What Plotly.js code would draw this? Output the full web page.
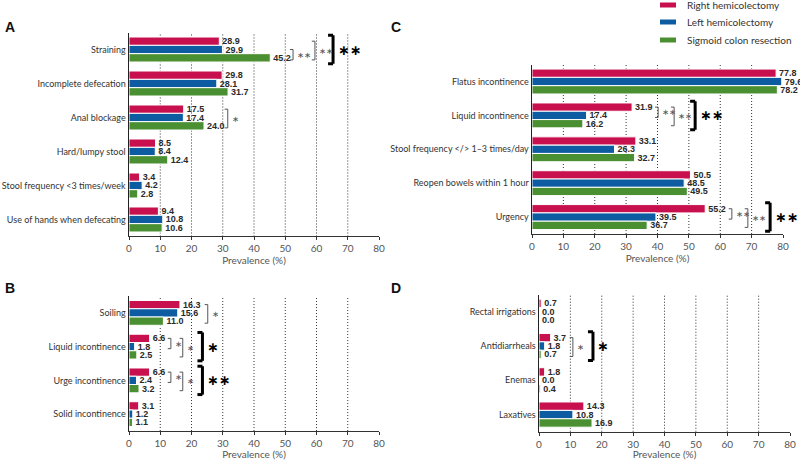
<!DOCTYPE html>
<html>
<head>
<meta charset="utf-8">
<script src="https://cdn.plot.ly/plotly-3.0.1.min.js"></script>
<style>
  html, body { margin: 0; padding: 0; background: #fff; }
  #plot { width: 800px; height: 460px; }
</style>
</head>
<body>
<div id="plot"></div>
<script>
// series names and colours
const seriesNames = ['Right hemicolectomy', 'Left hemicolectomy', 'Sigmoid colon resection'];
const seriesColors = ['#c8104e', '#0d5ca2', '#4a8f32'];

// panel A - constipation symptoms
const catsA = ['Straining', 'Incomplete defecation', 'Anal blockage', 'Hard/lumpy stool',
  'Stool frequency &lt;3 times/week', 'Use of hands when defecating'];
const rightA = [28.9, 29.8, 17.5, 8.5, 3.4, 9.4];
const leftA = [29.9, 28.1, 17.4, 8.4, 4.2, 10.8];
const sigmoidA = [45.2, 31.7, 24.0, 12.4, 2.8, 10.6];

// panel B - incontinence
const catsB = ['Soiling', 'Liquid incontinence', 'Urge incontinence', 'Solid incontinence'];
const rightB = [16.3, 6.6, 6.6, 3.1];
const leftB = [15.6, 1.8, 2.4, 1.2];
const sigmoidB = [11.0, 2.5, 3.2, 1.1];

// panel C - LARS items
const catsC = ['Flatus incontinence', 'Liquid incontinence', 'Stool frequency &lt;/&gt; 1–3 times/day',
  'Reopen bowels within 1 hour', 'Urgency'];
const rightC = [77.8, 31.9, 33.1, 50.5, 55.2];
const leftC = [79.6, 17.4, 26.3, 48.5, 39.5];
const sigmoidC = [78.2, 16.2, 32.7, 49.5, 36.7];

// panel D - medication use
const catsD = ['Rectal irrigations', 'Antidiarrheals', 'Enemas', 'Laxatives'];
const rightD = [0.7, 3.7, 1.8, 14.3];
const leftD = [0.0, 1.8, 0.0, 10.8];
const sigmoidD = [0.0, 0.7, 0.4, 16.9];

const xTicks = [0, 10, 20, 30, 40, 50, 60, 70, 80];
const gridVals = [10, 20, 30, 40, 50, 60, 70];

// significance brackets: panel, category index, series from/to, x position, label, big
const brackets = [
  { p: 'A', c: 0, a: 1, b: 2, x: 52.5, t: '∗∗' },
  { p: 'A', c: 0, a: 0, b: 2, x: 59.5, t: '∗∗' },
  { p: 'A', c: 0, x: 65.3, t: '∗∗', big: true },
  { p: 'A', c: 2, a: 0, b: 2, x: 31.6, t: '∗' },
  { p: 'B', c: 0, a: 0, b: 2, x: 25.2, t: '∗' },
  { p: 'B', c: 1, a: 0, b: 1, x: 13.4, t: '∗' },
  { p: 'B', c: 1, a: 0, b: 2, x: 17.2, t: '∗' },
  { p: 'B', c: 1, x: 23.5, t: '∗', big: true },
  { p: 'B', c: 2, a: 0, b: 1, x: 13.4, t: '∗' },
  { p: 'B', c: 2, a: 0, b: 2, x: 17.2, t: '∗' },
  { p: 'B', c: 2, x: 23.5, t: '∗∗', big: true },
  { p: 'C', c: 1, a: 0, b: 1, x: 40.2, t: '∗∗' },
  { p: 'C', c: 1, a: 0, b: 2, x: 45.3, t: '∗∗' },
  { p: 'C', c: 1, x: 52.0, t: '∗∗', big: true },
  { p: 'C', c: 4, a: 0, b: 1, x: 63.7, t: '∗∗' },
  { p: 'C', c: 4, a: 0, b: 2, x: 68.8, t: '∗∗' },
  { p: 'C', c: 4, x: 75.9, t: '∗∗', big: true },
  { p: 'D', c: 1, a: 0, b: 2, x: 10.8, t: '∗' },
  { p: 'D', c: 1, x: 17.2, t: '∗', big: true }
];

const FONT = 'Lato, "Open Sans", sans-serif';
const NUMFONT = '"Liberation Sans", Arial, sans-serif';
const BARGAP = 0.265;
const barW = (1 - BARGAP) / 3;

const panels = [
  { id: 'A', ax: '', cats: catsA, vals: [rightA, leftA, sigmoidA] },
  { id: 'B', ax: '2', cats: catsB, vals: [rightB, leftB, sigmoidB] },
  { id: 'C', ax: '3', cats: catsC, vals: [rightC, leftC, sigmoidC] },
  { id: 'D', ax: '4', cats: catsD, vals: [rightD, leftD, sigmoidD] }
];

const data = [];
panels.forEach(p => {
  p.vals.forEach((v, k) => {
    data.push({
      type: 'bar',
      orientation: 'h',
      name: seriesNames[k],
      y: p.cats,
      x: v,
      xaxis: 'x' + p.ax,
      yaxis: 'y' + p.ax,
      marker: { color: seriesColors[k], line: { color: '#ffffff', width: 1 } },
      texttemplate: '<b>%{x:.1f}</b>',
      textposition: 'outside',
      cliponaxis: false,
      constraintext: 'none',
      textfont: { family: NUMFONT, size: 9, color: '#2a2a2a' },
      showlegend: false,
      hoverinfo: 'x+y'
    });
  });
});

function xAxis(domain, anchor) {
  return {
    domain: domain, anchor: anchor, range: [0, 80], fixedrange: true,
    tickvals: xTicks, ticks: 'outside', ticklen: 3, tickcolor: '#333',
    showgrid: false, zeroline: false,
    showline: true, linecolor: '#333', linewidth: 1,
    tickfont: { family: FONT, size: 10, color: '#555' },
    title: { text: 'Prevalence (%)', font: { family: FONT, size: 10, color: '#555' }, standoff: 3 }
  };
}
function yAxis(domain, anchor, n) {
  return {
    domain: domain, anchor: anchor, type: 'category', fixedrange: true,
    range: [n - 0.5, -0.5],
    showgrid: false, zeroline: false, ticks: '',
    showline: true, linecolor: '#222', linewidth: 1.5,
    tickfont: { family: FONT, size: 9, color: '#333' }
  };
}

const shapes = [];
const annotations = [];

// dotted vertical grid lines
panels.forEach(p => {
  gridVals.forEach(g => {
    shapes.push({
      type: 'line', layer: 'below', xref: 'x' + p.ax, yref: 'y' + p.ax + ' domain',
      x0: g, x1: g, y0: 0, y1: 1, line: { color: '#333', width: 1, dash: '1px,2px' }
    });
  });
});

// brackets
brackets.forEach(br => {
  const ax = panels.find(p => p.id === br.p).ax;
  const xr = 'x' + ax, yr = 'y' + ax;
  let y0, y1, tick, col, w;
  if (br.big) {
    y0 = br.c - 0.42; y1 = br.c + 0.42; tick = 1.6; col = '#000'; w = 3;
  } else {
    y0 = br.c + (br.a - 1) * barW; y1 = br.c + (br.b - 1) * barW + 0.06;
    tick = 1.0; col = '#555'; w = 1;
  }
  [[br.x - tick, y0, br.x, y0], [br.x, y0, br.x, y1], [br.x - tick, y1, br.x, y1]].forEach(s => {
    shapes.push({ type: 'line', xref: xr, yref: yr, x0: s[0], y0: s[1], x1: s[2], y1: s[3],
      line: { color: col, width: w } });
  });
  annotations.push({
    xref: xr, yref: yr, x: br.x + (br.big ? 0.8 : 0.6), y: (y0 + y1) / 2,
    xanchor: 'left', yanchor: 'middle', showarrow: false, text: br.big ? '<b>' + br.t + '</b>' : br.t,
    font: br.big ? { family: 'DejaVu Sans', size: 14, color: '#000' }
                 : { family: 'DejaVu Sans', size: 8.5, color: '#555' }
  });
});

// panel letters
[['A', 3, 27], ['B', 3, 288], ['C', 389, 27], ['D', 389, 288]].forEach(l => {
  annotations.push({
    xref: 'paper', yref: 'paper', x: l[1] / 800, y: 1 - l[2] / 460,
    xanchor: 'left', yanchor: 'middle', showarrow: false, text: '<b>' + l[0] + '</b>',
    font: { family: 'Liberation Sans, Arial, sans-serif', size: 14, color: '#111' }
  });
});

// legend
[5, 22, 40].forEach((py, k) => {
  shapes.push({
    type: 'rect', xref: 'paper', yref: 'paper',
    x0: 660 / 800, x1: 676 / 800, y0: 1 - (py + 2.5) / 460, y1: 1 - (py - 2.5) / 460,
    fillcolor: seriesColors[k], line: { width: 0 }
  });
  annotations.push({
    xref: 'paper', yref: 'paper', x: 685 / 800, y: 1 - py / 460,
    xanchor: 'left', yanchor: 'middle', showarrow: false, text: seriesNames[k],
    font: { family: FONT, size: 10, color: '#333' }
  });
});

const layout = {
  width: 800, height: 460,
  margin: { l: 0, r: 0, t: 0, b: 0 },
  paper_bgcolor: '#fff', plot_bgcolor: '#fff',
  barmode: 'group', bargap: BARGAP, bargroupgap: 0,
  font: { family: FONT },
  xaxis: xAxis([0.16125, 0.47375], 'y'),
  yaxis: yAxis([0.4859, 0.9293], 'x', catsA.length),
  xaxis2: xAxis([0.16125, 0.47375], 'y2'),
  yaxis2: yAxis([0.063, 0.3565], 'x2', catsB.length),
  xaxis3: xAxis([0.665, 0.97875], 'y3'),
  yaxis3: yAxis([0.4913, 0.8596], 'x3', catsC.length),
  xaxis4: xAxis([0.67375, 0.9875], 'y4'),
  yaxis4: yAxis([0.0615, 0.3595], 'x4', catsD.length),
  shapes: shapes,
  annotations: annotations
};

Plotly.newPlot('plot', data, layout, { displayModeBar: false, staticPlot: true });
</script>
</body>
</html>
